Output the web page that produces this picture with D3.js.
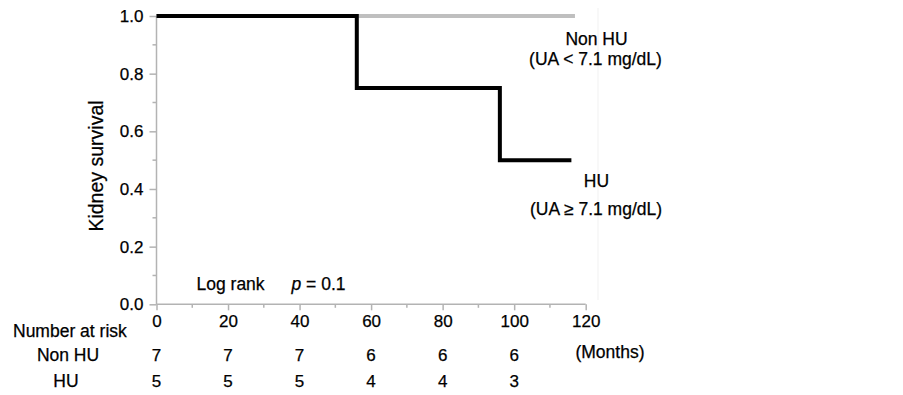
<!DOCTYPE html>
<html><head><meta charset="utf-8">
<script src="https://cdn.jsdelivr.net/npm/d3@7"></script>
<style>
html,body{margin:0;padding:0;background:#fff;}
svg{display:block;font-family:"Liberation Sans",Arial,sans-serif;}
text{stroke:#000;stroke-width:0.25px;}
</style></head>
<body>
<svg id="chart" width="903" height="395"></svg>
<script>
// ---- data ----
const xTicks = [0, 20, 40, 60, 80, 100, 120];
const yTicks = [0.0, 0.2, 0.4, 0.6, 0.8, 1.0];
const nonHUTimes = [0, 117];
const nonHUSurv = [1.0, 1.0];
const huTimes = [0, 56, 96, 116];
const huSurv = [1.0, 0.75, 0.5, 0.5];
const riskTimes = [0, 20, 40, 60, 80, 100];
const riskNonHU = [7, 7, 7, 6, 6, 6];
const riskHU = [5, 5, 5, 4, 4, 3];

const svg = d3.select("#chart");
const x = d3.scaleLinear().domain([0, 120]).range([156.5, 585.7]);
const y = d3.scaleLinear().domain([0, 1]).range([304.3, 16]);
const axisColor = "#b3b3b3";

// faint vertical line artifact
svg.append("line").attr("x1", 598).attr("x2", 598).attr("y1", 8).attr("y2", 300)
  .attr("stroke", "#f1f1f1").attr("stroke-width", 1);

// y axis
const yAxis = svg.append("g").attr("transform", `translate(${x(0)},0)`)
  .call(d3.axisLeft(y).tickValues(yTicks).tickFormat(d3.format(".1f")).tickSize(7).tickPadding(6));
yAxis.select(".domain").attr("stroke", axisColor).attr("stroke-width", 1.5).attr("d", `M0,${y(1)}V${y(0)}`);
yAxis.selectAll(".tick line").attr("stroke", axisColor).attr("stroke-width", 1.5);
yAxis.selectAll(".tick text").attr("font-size", 17).attr("fill", "#000")
  .attr("font-family", "Liberation Sans, Arial, sans-serif");
// y minor ticks
svg.append("g").selectAll("line").data(d3.range(0.1, 1.0, 0.2)).join("line")
  .attr("x1", x(0) - 4).attr("x2", x(0)).attr("y1", d => y(d)).attr("y2", d => y(d))
  .attr("stroke", axisColor).attr("stroke-width", 1.5);

// x axis
const xAxis = svg.append("g").attr("transform", `translate(0,${y(0)})`)
  .call(d3.axisBottom(x).tickValues(xTicks).tickSize(6).tickPadding(5).tickFormat(d3.format("d")));
xAxis.select(".domain").attr("stroke", axisColor).attr("stroke-width", 1.5).attr("d", `M${x(0)},0H${x(120)}`);
xAxis.selectAll(".tick line").attr("stroke", axisColor).attr("stroke-width", 1.5);
xAxis.selectAll(".tick text").attr("font-size", 17).attr("fill", "#000")
  .attr("font-family", "Liberation Sans, Arial, sans-serif");
// x minor ticks
svg.append("g").selectAll("line").data(d3.range(10, 120, 20)).join("line")
  .attr("x1", d => x(d)).attr("x2", d => x(d)).attr("y1", y(0)).attr("y2", y(0) + 3.5)
  .attr("stroke", axisColor).attr("stroke-width", 1.5);

// curves
const line = d3.line().x(d => x(d[0])).y(d => y(d[1])).curve(d3.curveStepAfter);
svg.append("path").datum(d3.zip(nonHUTimes, nonHUSurv)).attr("d", line)
  .attr("fill", "none").attr("stroke", "#bfbfbf").attr("stroke-width", 4);
svg.append("path").datum(d3.zip(huTimes, huSurv)).attr("d", line)
  .attr("fill", "none").attr("stroke", "#000").attr("stroke-width", 4)
  .attr("stroke-linejoin", "miter").attr("stroke-linecap", "butt");

// texts
const T = (tx, ty, s, anchor = "start", size = 17.5) => svg.append("text")
  .attr("x", tx).attr("y", ty).attr("text-anchor", anchor).attr("font-size", size).attr("fill", "#000").text(s);

svg.append("text").attr("transform", "translate(103,166) rotate(-90)")
  .attr("text-anchor", "middle").attr("font-size", 19.5).text("Kidney survival");

T(596.5, 45, "Non HU", "middle");
T(595.5, 65, "(UA < 7.1 mg/dL)", "middle");
T(596.5, 187, "HU", "middle");
T(596, 215, "(UA \u2265 7.1 mg/dL)", "middle");

T(196.5, 290, "Log rank");
const pt = svg.append("text").attr("x", 291.5).attr("y", 290).attr("font-size", 17.5);
pt.append("tspan").attr("font-style", "italic").text("p");
pt.append("tspan").text(" = 0.1");

T(13, 337, "Number at risk");
T(68, 361, "Non HU", "middle");
T(66, 387, "HU", "middle");
T(610, 358, "(Months)", "middle");

svg.append("g").selectAll("text").data(d3.zip(riskTimes, riskNonHU)).join("text")
  .attr("x", d => x(d[0])).attr("y", 361).attr("text-anchor", "middle").attr("font-size", 17).text(d => d[1]);
svg.append("g").selectAll("text").data(d3.zip(riskTimes, riskHU)).join("text")
  .attr("x", d => x(d[0])).attr("y", 387).attr("text-anchor", "middle").attr("font-size", 17).text(d => d[1]);
</script>
</body></html>
